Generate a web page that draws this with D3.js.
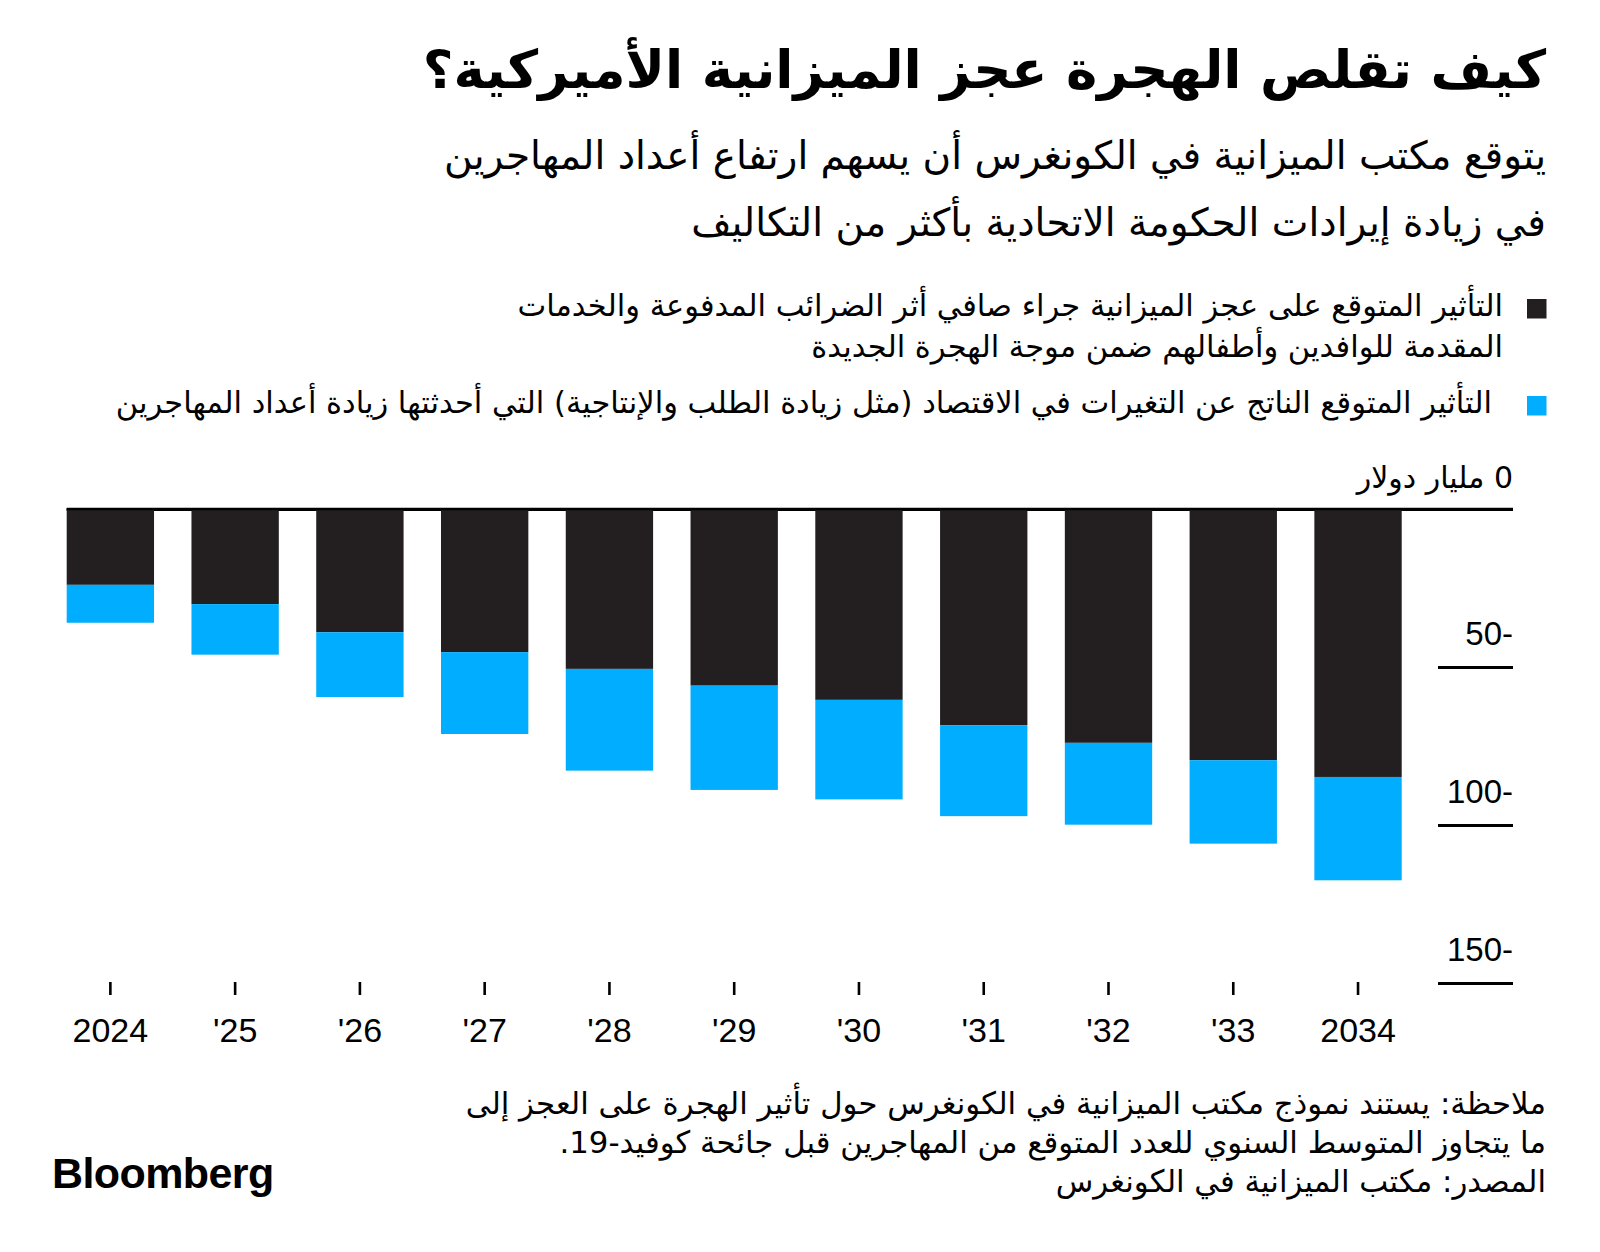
<!DOCTYPE html>
<html><head><meta charset="utf-8">
<script src="https://cdn.jsdelivr.net/npm/d3@7"></script>
<style>
body{margin:0;background:#fff}
svg{display:block}
.ar{font-family:"DejaVu Sans","Noto Sans",sans-serif}
.lat{font-family:"Liberation Sans",Arimo,Arial,sans-serif}
</style>
</head><body>
<svg id="c" width="1600" height="1252"></svg>
<script>
// ---- data ----
const years = ["2024","'25","'26","'27","'28","'29","'30","'31","'32","'33","2034"];
const fiscalImpact   = [-24.0,-30.1,-39.0,-45.3,-50.6,-55.9,-60.4,-68.4,-74.0,-79.5,-84.8];
const economicImpact = [-12.0,-16.0,-20.5,-25.9,-32.2,-33.0,-31.5,-28.8,-25.9,-26.4,-32.7];
const yTickValues = [0,-50,-100,-150];
const yTickLabels = ["0 مليار دولار","50-","100-","150-"];
const seriesKeys = ["fiscal","economic"];
const seriesColors = ["#231f20","#00adfe"];

const titleText = "كيف تقلص الهجرة عجز الميزانية الأميركية؟";
const subtitleLines = ["يتوقع مكتب الميزانية في الكونغرس أن يسهم ارتفاع أعداد المهاجرين",
                       "في زيادة إيرادات الحكومة الاتحادية بأكثر من التكاليف"];
const legendFiscal = ["التأثير المتوقع على عجز الميزانية جراء صافي أثر الضرائب المدفوعة والخدمات",
                      "المقدمة للوافدين وأطفالهم ضمن موجة الهجرة الجديدة"];
const legendEconomic = ["التأثير المتوقع الناتج عن التغيرات في الاقتصاد (مثل زيادة الطلب والإنتاجية) التي أحدثتها زيادة أعداد المهاجرين"];
const footerLines = ["ملاحظة: يستند نموذج مكتب الميزانية في الكونغرس حول تأثير الهجرة على العجز إلى",
                     "ما يتجاوز المتوسط السنوي للعدد المتوقع من المهاجرين قبل جائحة كوفيد-19.",
                     "المصدر: مكتب الميزانية في الكونغرس"];

// ---- setup ----
const svg = d3.select("#c");
const RIGHT = 1546;

function rtlText(sel, txt, x, y, size, weight){
  return sel.append("text").attr("class","ar")
    .attr("x",x).attr("y",y)
    .attr("direction","rtl").attr("text-anchor","start")
    .style("font-size",size+"px").style("font-weight",weight||400)
    .attr("fill","#000").text(txt);
}

// title + subtitle
rtlText(svg, titleText, RIGHT, 88, 53, 700);
subtitleLines.forEach((t,i)=>rtlText(svg, t, RIGHT, 169 + i*67, 39, 400));

// legend
svg.append("rect").attr("x",1527).attr("y",299).attr("width",19.5).attr("height",19.5).attr("fill",seriesColors[0]);
legendFiscal.forEach((t,i)=>rtlText(svg, t, 1503, 316 + i*41, 30.5, 400));
svg.append("rect").attr("x",1527).attr("y",396).attr("width",19.5).attr("height",19.5).attr("fill",seriesColors[1]);
legendEconomic.forEach((t,i)=>rtlText(svg, t, 1492, 413 + i*41, 30.5, 400));

// ---- chart ----
const rows = years.map((yr,i)=>({year:yr, fiscal:fiscalImpact[i], economic:economicImpact[i]}));
const stack = d3.stack().keys(seriesKeys).offset(d3.stackOffsetDiverging)(rows);

const x = d3.scaleBand().domain(years).range([66.7,1401.7]).paddingInner(0.3).paddingOuter(0);
const y = d3.scaleLinear().domain([0,-150]).range([509,983]);

// y axis (right side, labels above short rules)
const yAxis = svg.append("g").attr("transform","translate(1513,0)")
  .call(d3.axisLeft(y).tickValues(yTickValues).tickSize(75).tickFormat((d,i)=>yTickLabels[i]));
yAxis.select(".domain").remove();
yAxis.selectAll(".tick line").attr("stroke","#000").attr("stroke-width",3)
  .attr("x2",d=>d===0 ? -(1513-66.7) : -75);
yAxis.selectAll(".tick text")
  .attr("x",0).attr("dy",null).attr("y",d=>d===0?-22:-23)
  .attr("fill","#000")
  .attr("class",d=>d===0?"ar":"lat")
  .attr("direction",d=>d===0?"rtl":"ltr")
  .attr("text-anchor",d=>d===0?"start":"end")
  .style("font-size",d=>d===0?"30px":"33px");
yAxis.attr("font-family",null).attr("font-size",null);

// bars
svg.append("g").selectAll("g").data(stack).join("g")
  .attr("fill",(d,i)=>seriesColors[i])
  .selectAll("rect").data(d=>d).join("rect")
  .attr("x",d=>x(d.data.year))
  .attr("width",x.bandwidth())
  .attr("y",d=>y(Math.max(d[0],d[1])))
  .attr("height",d=>Math.abs(y(d[0])-y(d[1])));

// redraw zero line on top
svg.append("line").attr("x1",66.7).attr("x2",1513).attr("y1",y(0)).attr("y2",y(0))
  .attr("stroke","#000").attr("stroke-width",2.5);

// x axis
const xAxis = svg.append("g").attr("transform","translate(0,982)")
  .call(d3.axisBottom(x).tickSize(13).tickSizeOuter(0));
xAxis.select(".domain").remove();
xAxis.selectAll(".tick line").attr("stroke","#000").attr("stroke-width",2.6);
xAxis.selectAll(".tick text").attr("class","lat").attr("y",60).attr("dy",null)
  .attr("fill","#000").style("font-size","34px");
xAxis.attr("font-family",null).attr("font-size",null);

// footer
footerLines.forEach((t,i)=>rtlText(svg, t, RIGHT, 1114 + i*39, 30.8, 400));
svg.append("text").attr("class","lat").attr("x",52).attr("y",1188)
  .style("font-size","43px").style("font-weight",700).style("letter-spacing","-0.6px")
  .attr("fill","#000").text("Bloomberg");
</script>
</body></html>
